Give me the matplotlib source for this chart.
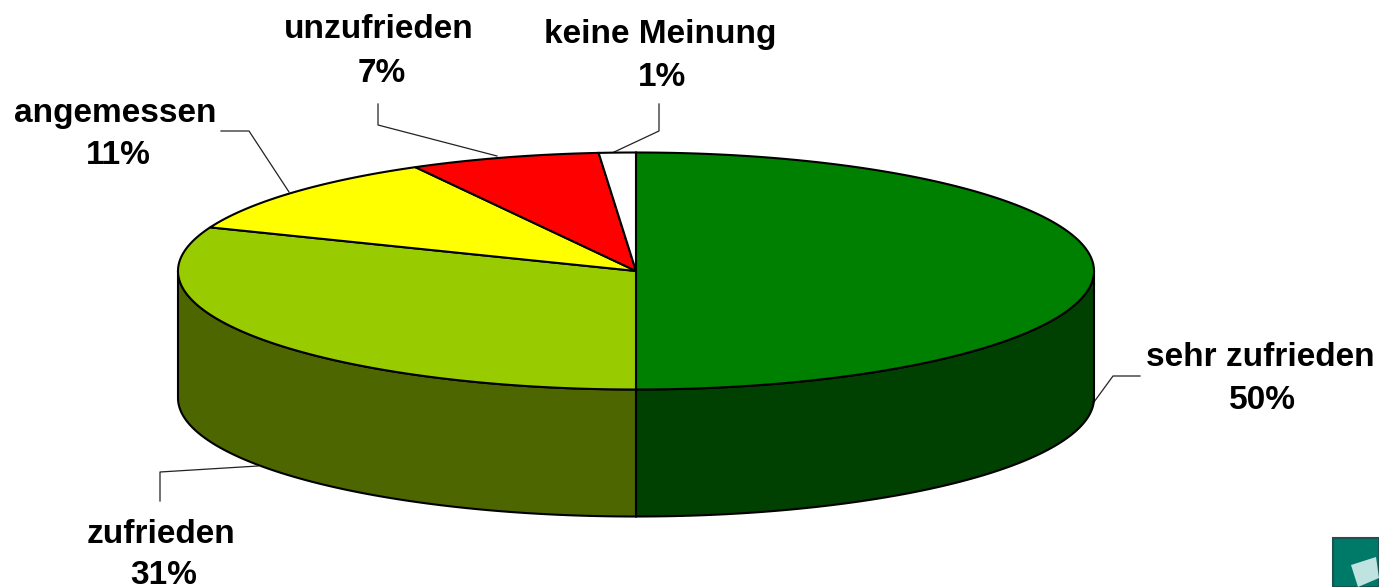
import numpy as np
import matplotlib
matplotlib.use("Agg")
from matplotlib import pyplot as plt
from matplotlib.patches import Polygon, Rectangle

categories = ['sehr zufrieden', 'zufrieden', 'angemessen', 'unzufrieden', 'keine Meinung']
# slices as drawn, the labels are rounded
values = [50, 31, 11, 6.7, 1.3]
percent_labels = ['50%', '31%', '11%', '7%', '1%']
top_colors = ['#008000', '#99CC00', '#FFFF00', '#FF0000', '#FFFFFF']
side_colors = ['#004000', '#4D6600', '#808000', '#800000', '#808080']

# text anchors (centre x, baseline y), in pixels of the picture
name_pos = [(1260, 366), (161, 543), (115, 122), (379, 38), (660, 43)]
pct_pos = [(1262, 409), (164, 584), (118, 164), (382, 82), (662, 86)]
leaders = [
    [(1094, 402), (1113, 376), (1140, 376)],
    [(160, 501), (160, 472), (258, 466)],
    [(221, 131), (249, 131), (289, 192)],
    [(378, 104), (378, 125), (497, 156)],
    [(659, 104), (659, 131), (612, 153)],
]

cx, cy = 636, 271
a, b = 458, 118.5
depth = 127

plt.rcParams['font.family'] = ['Liberation Sans', 'DejaVu Sans']

fig = plt.figure(figsize=(13.79, 5.87), dpi=100)
ax = fig.add_axes([0, 0, 1, 1])
ax.set_xlim(0, 1379)
ax.set_ylim(587, 0)
ax.axis('off')


def rim(t):
    # t is the clockwise angle from the top of the pie
    return cx + a * np.sin(t), cy - b * np.cos(t)


edges = np.cumsum([0] + values) / sum(values) * 2 * np.pi

# side wall, only the front half shows
for i in range(len(values)):
    lo = max(edges[i], np.pi / 2)
    hi = min(edges[i + 1], 3 * np.pi / 2)
    if hi <= lo:
        continue
    t = np.linspace(lo, hi, 200)
    x, y = rim(t)
    pts = np.r_[np.c_[x, y], np.c_[x[::-1], y[::-1] + depth]]
    ax.add_patch(Polygon(pts, closed=True, fc=side_colors[i], ec='black', lw=1.5, zorder=2))

# top surface
for i in range(len(values)):
    t = np.linspace(edges[i], edges[i + 1], 300)
    x, y = rim(t)
    pts = np.r_[[(cx, cy)], np.c_[x, y]]
    ax.add_patch(Polygon(pts, closed=True, fc=top_colors[i], ec='black', lw=1.5, zorder=3))

for i in range(len(categories)):
    ax.text(name_pos[i][0], name_pos[i][1], categories[i], ha='center', va='baseline',
            fontsize=24, fontweight='bold', color='black', zorder=5)
    ax.text(pct_pos[i][0], pct_pos[i][1], percent_labels[i], ha='center', va='baseline',
            fontsize=24, fontweight='bold', color='black', zorder=5)
    xs, ys = zip(*leaders[i])
    ax.plot(xs, ys, color='#222222', lw=0.9, zorder=1)

# small logo cut off at the corner
ax.add_patch(Rectangle((1333, 538), 46, 49, fc='#007A68', ec='#1F4F50', lw=1.5, zorder=2))
ax.add_patch(Polygon([(1351, 565), (1376, 557), (1379, 578), (1358, 587)], closed=True,
                     fc='#BFE3E0', ec='none', zorder=3))

fig.savefig('out.png', dpi=100)
